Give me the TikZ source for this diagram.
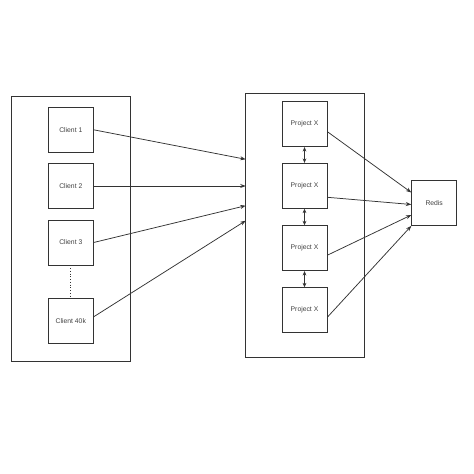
\documentclass[tikz,border=0pt]{standalone}
\usepackage{fontspec}
\setmainfont{Liberation Sans}
\usetikzlibrary{arrows.meta}
\tikzset{
    box/.style={draw, minimum width=45pt, minimum height=45pt, inner sep=0pt, font=\fontsize{6.8pt}{8pt}\selectfont, text=black!75},
    group/.style={draw, inner sep=0pt},
    tip/.style={-{Stealth[length=5.5pt,width=4pt]}},
    both/.style={{Stealth[length=4.5pt,width=3.8pt]}-{Stealth[length=4.5pt,width=3.8pt]}}
}
\begin{document}
\begin{tikzpicture}[x=1pt, y=1pt, line width=0.75pt, draw=black!80]
        \useasboundingbox (0, 0) rectangle (474, 474);

        \node[group, minimum width=119pt, minimum height=265pt] (clients) at (70.8, 245.5) {};
        \node[group, minimum width=118.3pt, minimum height=264.4pt] (cluster) at (304.8, 248.5) {};

        \node[box] (c1) at (70.8, 344.2) {Client 1};
        \node[box] (c2) at (70.8, 288) {Client 2};
        \node[box] (c3) at (70.8, 231.5) {Client 3};
        \node[box] (c4) at (70.8, 152.7) {Client 40k};

        \node[box] (p1) at (304.5, 349.8) {Project X};
        \node[box] (p2) at (304.5, 288.2) {Project X};
        \node[box] (p3) at (304.5, 225.8) {Project X};
        \node[box] (p4) at (304.5, 163.8) {Project X};

        \node[box] (redis) at (434.2, 271) {Redis};

        \coordinate (in1) at (245.7, 314.7);
        \coordinate (in2) at (245.7, 288);
        \coordinate (in3) at (245.7, 268.3);
        \coordinate (in4) at (245.7, 253.3);

        \draw [dotted] (c3) -- (c4);

        \draw [tip] (c1.east) -- (in1);
        \draw [tip] (c2.east) -- (in2);
        \draw [tip] (c3.east) -- (in3);
        \draw [tip] ([yshift=4.5pt]c4.east) -- (in4);

        \draw [both] (p1) -- (p2);
        \draw [both] (p2) -- (p3);
        \draw [both] (p3) -- (p4);

        \draw [tip] ([yshift=-7.5pt]p1.east) -- ([yshift=10.5pt]redis.west);
        \draw [tip] ([yshift=-11.5pt]p2.east) -- ([yshift=-1.5pt]redis.west);
        \draw [tip] ([yshift=-7pt]p3.east) -- ([yshift=-12pt]redis.west);
        \draw [tip] ([yshift=-7pt]p4.east) -- (redis.south west);
    \end{tikzpicture}
\end{document}
